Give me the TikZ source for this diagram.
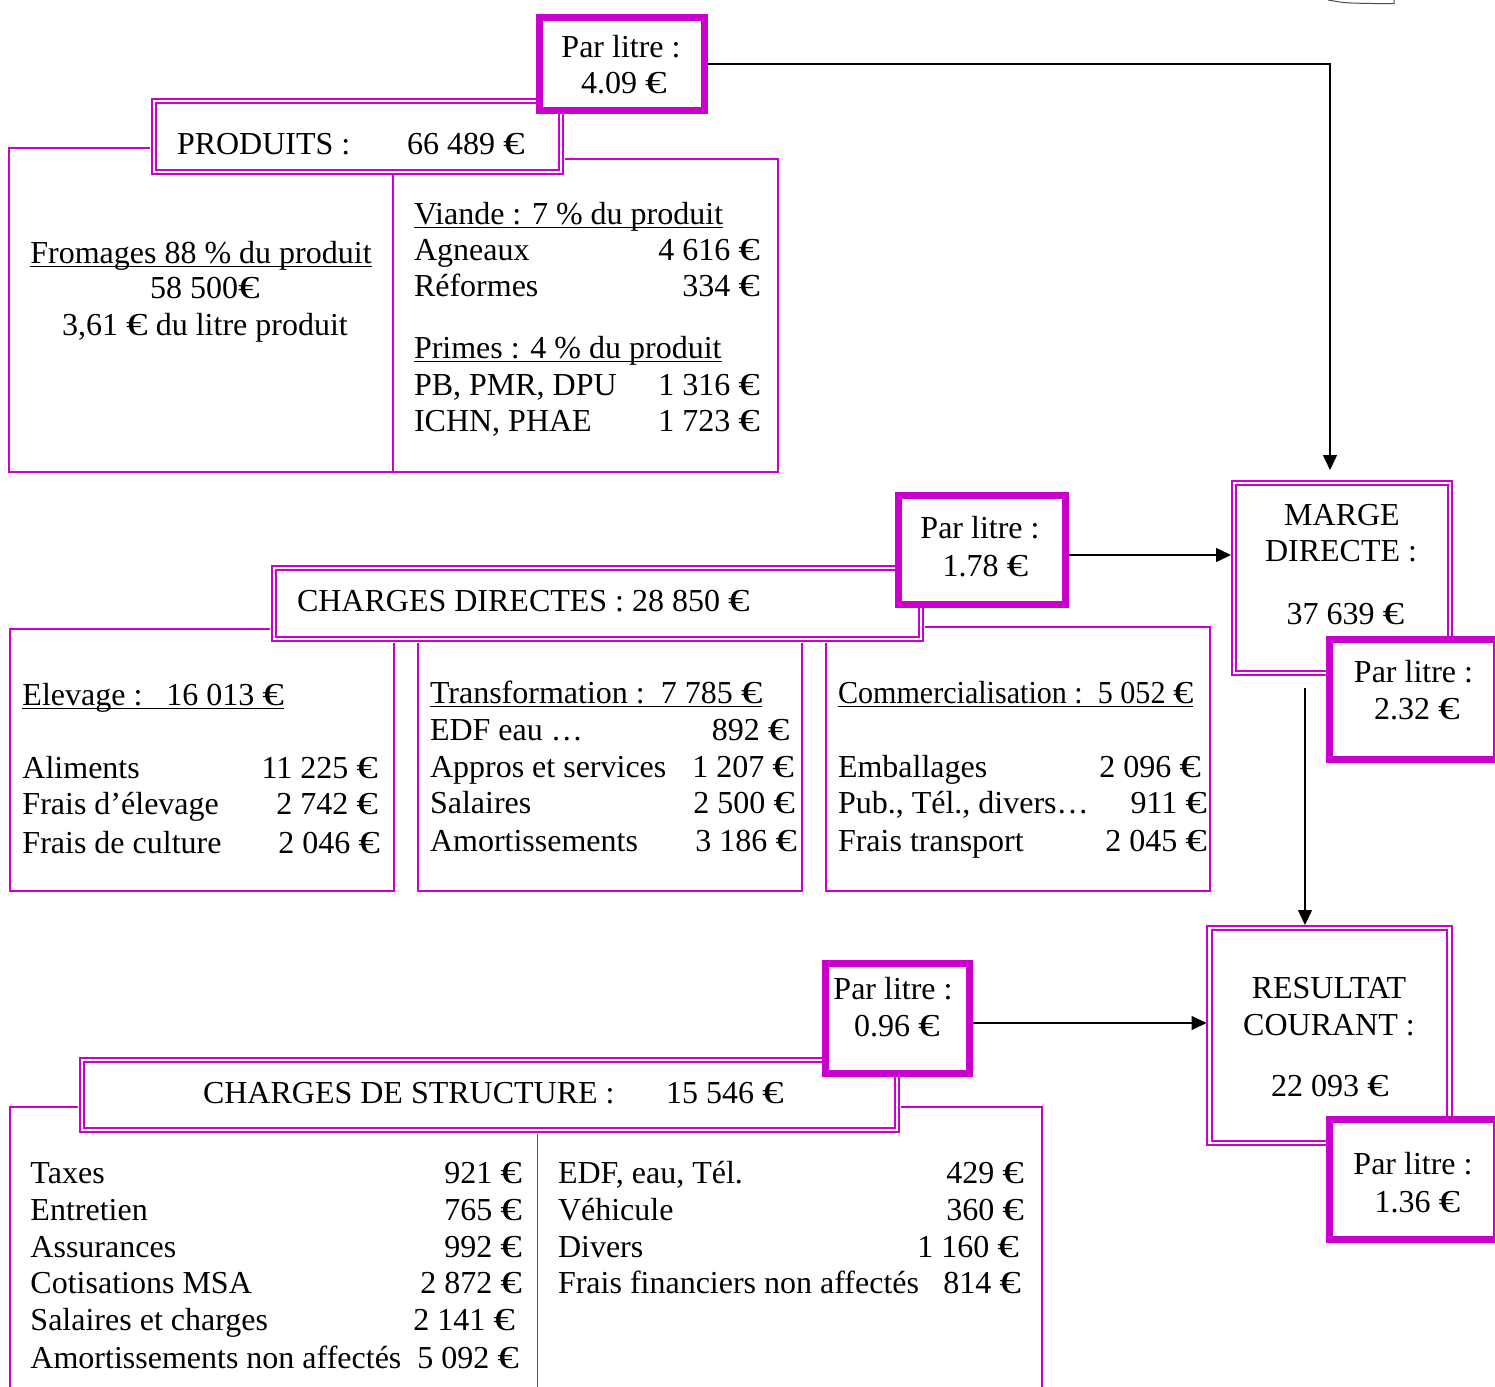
\documentclass[tikz,border=0pt]{standalone}
\usepackage{graphicx}
\usepackage{fontspec}
\setmainfont{Liberation Serif}
\usetikzlibrary{arrows.meta}
\definecolor{mag}{RGB}{204,0,204}
\newsavebox\myulbox
\newcommand{\myul}[1]{\sbox\myulbox{#1}\rlap{\rule[-2.2pt]{\wd\myulbox}{0.75pt}}\usebox\myulbox}
\newcommand{\eu}{\scalebox{1.35}[1]{€}}
\tikzset{
  mline/.style={draw=mag, line width=0.9pt},
  dblbox/.style={draw=mag, line width=0.9pt, double=white, double distance=1.4pt, inner sep=0pt, outer sep=0pt, rectangle},
  litrebox/.style={draw=mag, line width=3.5pt, fill=white, inner sep=0pt, outer sep=0pt, rectangle},
  tl/.style={inner sep=0pt, outer sep=0pt, anchor=base west},
  tr/.style={inner sep=0pt, outer sep=0pt, anchor=base east},
  tc/.style={inner sep=0pt, outer sep=0pt, anchor=base},
  flow/.style={draw=black, line width=0.75pt, -{Triangle[length=7.5pt,width=7pt]}},
}
\begin{document}
\begin{tikzpicture}[x=0.5pt, y=-0.5pt, font=\fontsize{16pt}{18.25pt}\selectfont]
\useasboundingbox (0,0) rectangle (1495,1387);
\fill[white] (0,0) rectangle (1495,1387);
\clip (0,0) rectangle (1495,1387);

% small sketch mark top right
\draw[black!70, line width=0.5pt] (1328,0) .. controls (1345,3) .. (1372,3.5) -- (1394,3.5) -- (1394,0);

% ---------- body outlines ----------
\draw[mline] (150,148) -- (9,148) -- (9,472) -- (778,472) -- (778,159) -- (565,159);
\draw[mline] (393,175) -- (393,472);

\draw[mline] (270,629) -- (10,629) -- (10,891) -- (394,891) -- (394,643);
\draw[mline] (418,643) -- (418,891) -- (802,891) -- (802,643);
\draw[mline] (925,627) -- (1210,627) -- (1210,891) -- (826,891) -- (826,643);

\draw[mline] (78,1107) -- (10,1107) -- (10,1400);
\draw[mline] (901,1107) -- (1042,1107) -- (1042,1400);
\draw[mline] (537.5,1134) -- (537.5,1400);

% ---------- double header boxes ----------
\node[dblbox, minimum width=203.5pt, minimum height=35.5pt] (hprod) at (357.5,136.5) {};
\node[dblbox, minimum width=323.5pt, minimum height=35.5pt] (hcd) at (597.5,603.5) {};
\node[dblbox, minimum width=407.5pt, minimum height=35pt] (hcs) at (489.5,1095) {};
\node[dblbox, minimum width=108pt, minimum height=95pt] (marge) at (1342,578) {};
\node[dblbox, minimum width=120pt, minimum height=107.5pt] (res) at (1329.5,1035.5) {};

% ---------- par litre boxes ----------
\node[litrebox, minimum width=82.5pt, minimum height=46.5pt] (pl1) at (622,64) {};
\node[litrebox, minimum width=83.5pt, minimum height=54.5pt] (pl2) at (982,550) {};
\node[litrebox, minimum width=83.5pt, minimum height=60pt] (pl3) at (1413,699.5) {};
\node[litrebox, minimum width=72pt, minimum height=55pt] (pl4) at (897.5,1018.5) {};
\node[litrebox, minimum width=83.5pt, minimum height=60pt] (pl5) at (1413,1179.5) {};

\node[tc] (pl1a) at (621,57) {Par litre :};
\node[tc] (pl1b) at (624,93) {4.09 \eu};
\node[tc] (pl2a) at (980,538) {Par litre :};
\node[tc] (pl2b) at (985.5,576) {1.78 \eu};
\node[tc] (pl3a) at (1413.5,682) {Par litre :};
\node[tc] (pl3b) at (1417,719) {2.32 \eu};
\node[tc] (pl4a) at (893,999) {Par litre :};
\node[tc] (pl4b) at (897,1036) {0.96 \eu};
\node[tc] (pl5a) at (1413,1174) {Par litre :};
\node[tc] (pl5b) at (1417.5,1212) {1.36 \eu};

% ---------- produits ----------
\node[tl] (tprod) at (177,154) {PRODUITS :};
\node[tl] (vprod) at (407,154) {66 489 \eu};
\node[tc] (tfrom) at (201,263) {\myul{Fromages 88 \% du produit}};
\node[tc] (vfrom) at (205,298) {58 500\eu};
\node[tc] (lfrom) at (205,335) {3,61 \eu{} du litre produit};
\node[tl] (tvia) at (414,224) {\myul{Viande : 7 \% du produit}};
\node[tl] (agn) at (414,260) {Agneaux};
\node[tr] (vagn) at (760,260) {4 616 \eu};
\node[tl] (refo) at (414,296) {Réformes};
\node[tr] (vrefo) at (760,296) {334 \eu};
\node[tl] (tpri) at (414,358) {\myul{Primes : 4 \% du produit}};
\node[tl] (pb) at (414,395) {PB, PMR, DPU};
\node[tr] (vpb) at (760,395) {1 316 \eu};
\node[tl] (ichn) at (414,431) {ICHN, PHAE};
\node[tr] (vichn) at (760,431) {1 723 \eu};

% ---------- charges directes ----------
\node[tl] (tcd) at (297,611) {CHARGES DIRECTES : 28 850 \eu};
\node[tl] (telev) at (22.5,705) {\myul{Elevage :\ \ \ 16 013 \eu}};
\node[tl] (alim) at (22.5,778) {Aliments};
\node[tr] (valim) at (378,778) {11 225 \eu};
\node[tl] (fel) at (22.5,814) {Frais d’élevage};
\node[tr] (vfel) at (378,814) {2 742 \eu};
\node[tl] (fcu) at (22.5,853) {Frais de culture};
\node[tr] (vfcu) at (380,853) {2 046 \eu};

\node[tl] (ttra) at (430,703) {\myul{Transformation :\ \ 7 785 \eu}};
\node[tl] (edf) at (430,740) {EDF eau …};
\node[tr] (vedf) at (789.5,740) {892 \eu};
\node[tl] (app) at (430,777) {Appros et services};
\node[tr] (vapp) at (794,777) {1 207 \eu};
\node[tl] (sal) at (430,813) {Salaires};
\node[tr] (vsal) at (795,813) {2 500 \eu};
\node[tl] (amo) at (430,851) {Amortissements};
\node[tr] (vamo) at (797,851) {3 186 \eu};

\node[tl] (tcom) at (838,703) {\myul{\scalebox{0.94}[1]{Commercialisation :\ \ 5 052 \eu}}};
\node[tl] (emb) at (838,777) {Emballages};
\node[tr] (vemb) at (1201,777) {2 096 \eu};
\node[tl] (pub) at (838,813) {Pub., Tél., divers…};
\node[tr] (vpub) at (1207,813) {911 \eu};
\node[tl] (ftr) at (838,851) {Frais transport};
\node[tr] (vftr) at (1207,851) {2 045 \eu};

% ---------- marge / resultat ----------
\node[tc] (m1) at (1342,525) {MARGE};
\node[tc] (m2) at (1341,561) {DIRECTE :};
\node[tc] (m3) at (1345.5,624) {37 639 \eu};
\node[tc] (r1) at (1329,998) {RESULTAT};
\node[tc] (r2) at (1329,1035) {COURANT :};
\node[tc] (r3) at (1330,1096) {22 093 \eu};

% ---------- charges de structure ----------
\node[tl] (tcs) at (203,1103) {CHARGES DE STRUCTURE :};
\node[tl] (vcs) at (666,1103) {15 546 \eu};
\node[tl] (tax) at (30.5,1183) {Taxes};
\node[tr] (vtax) at (522,1183) {921 \eu};
\node[tl] (ent) at (30.5,1220) {Entretien};
\node[tr] (vent) at (522,1220) {765 \eu};
\node[tl] (ass) at (30.5,1257) {Assurances};
\node[tr] (vass) at (522,1257) {992 \eu};
\node[tl] (cot) at (30.5,1293) {Cotisations MSA};
\node[tr] (vcot) at (522,1293) {2 872 \eu};
\node[tl] (salc) at (30.5,1330) {Salaires et charges};
\node[tr] (vsalc) at (515,1330) {2 141 \eu};
\node[tl] (amna) at (30.5,1368) {Amortissements non affectés};
\node[tr] (vamna) at (519,1368) {5 092 \eu};

\node[tl] (edft) at (558,1183) {EDF, eau, Tél.};
\node[tr] (vedft) at (1024,1183) {429 \eu};
\node[tl] (veh) at (558,1220) {Véhicule};
\node[tr] (vveh) at (1024,1220) {360 \eu};
\node[tl] (div) at (558,1257) {Divers};
\node[tr] (vdiv) at (1019,1257) {1 160 \eu};
\node[tl] (ffin) at (558,1293) {Frais financiers non affectés};
\node[tr] (vffin) at (1021,1293) {814 \eu};

% ---------- connectors ----------
\draw[flow, shorten <=1.75pt, shorten >=6.5pt] (pl1.east) -| ([xshift=-6pt]marge.north);
\draw[flow, shorten <=1.75pt, shorten >=1.5pt] ([yshift=-2.5pt]pl2.east) -- ([yshift=-2.5pt]pl2.east -| marge.west);
\draw[flow, shorten <=7.5pt, shorten >=1.5pt] ([xshift=-18.5pt]marge.south) -- ([xshift=-18.5pt]marge.south |- res.north);
\draw[flow, shorten <=1.75pt, shorten >=1.5pt] ([yshift=-2.25pt]pl4.east) -- ([yshift=-2.25pt]pl4.east -| res.west);
\end{tikzpicture}
\end{document}
